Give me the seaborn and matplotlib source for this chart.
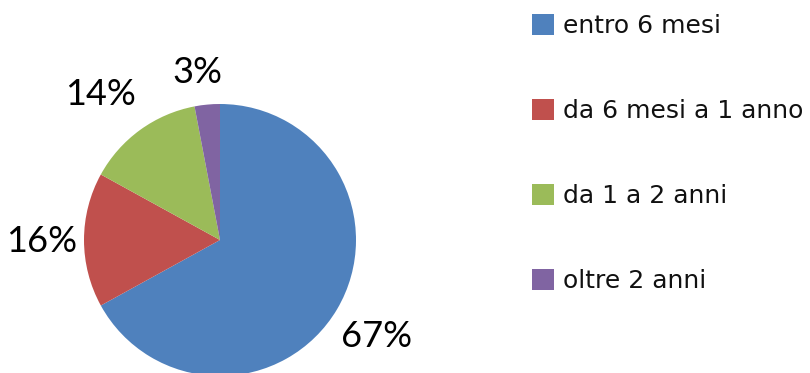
import matplotlib
matplotlib.use("Agg")
import matplotlib.pyplot as plt
import seaborn as sns
import numpy as np

categories = ["entro 6 mesi", "da 6 mesi a 1 anno", "da 1 a 2 anni", "oltre 2 anni"]
values = [67, 16, 14, 3]
colors = ["#4F81BD", "#C0504D", "#9BBB59", "#8064A2"]

sns.set_theme(style="white")
plt.rcParams["font.family"] = ["DejaVu Sans"]

W, H = 810, 373
fig = plt.figure(figsize=(W / 100, H / 100), dpi=100)
fig.patch.set_facecolor("white")
ax = fig.add_axes([0, 0, 1, 1])

palette = sns.color_palette(colors)
cx, cy, R = 220, 133, 136
wedges, _ = ax.pie(values, colors=palette, startangle=90, counterclock=False,
                   center=(cx, cy), radius=R,
                   wedgeprops=dict(linewidth=0, edgecolor="none"))
ax.set_xlim(0, W)
ax.set_ylim(0, H)
ax.set_aspect("equal")
ax.axis("off")

# percentage labels placed along each wedge's mid-angle, with small nudges
dists = [1.34, 1.31, 1.40, 1.26]
nudges = [(0, -4), (0, -2), (-8, -9), (-6, -3)]
for w, v, d, (nx, ny) in zip(wedges, values, dists, nudges):
    ang = np.deg2rad((w.theta1 + w.theta2) / 2)
    ax.text(cx + d * R * np.cos(ang) + nx, cy + d * R * np.sin(ang) + ny, f"{v}%",
            ha="center", va="center", fontsize=26, family=["Lato", "DejaVu Sans"],
            color="black")

leg = fig.legend(wedges, categories, loc="upper left",
                 bbox_to_anchor=(532 / W, (H - 14) / H), bbox_transform=fig.transFigure,
                 frameon=False, fontsize=18, borderpad=0, borderaxespad=0,
                 handlelength=0.88, handleheight=0.88, handletextpad=0.36,
                 labelspacing=2.44)
for t in leg.get_texts():
    t.set_color("#111111")

fig.savefig("out.png", dpi=100, facecolor="white")
